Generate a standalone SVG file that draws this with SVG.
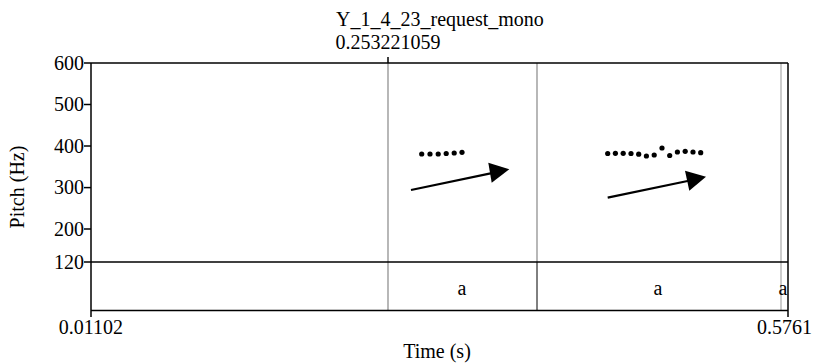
<svg xmlns="http://www.w3.org/2000/svg" width="813" height="363" viewBox="0 0 813 363">
<style>
text{font-family:"Liberation Serif","Times New Roman",serif;font-size:20px;fill:#000}
.ax{stroke:#000;stroke-width:1.5;fill:none}
.thin{stroke:#000;stroke-width:1;fill:none}
.gray{stroke:#888;stroke-width:1.2;fill:none}
.lgray{stroke:#bbb;stroke-width:1.5;fill:none}
.r{text-anchor:end}
.m{text-anchor:middle}
.dot{fill:#000}
</style>
<rect width="813" height="363" fill="#fff"/>
<g id="title">
<text class="m" x="440" y="26">Y_1_4_23_request_mono</text>
<text class="m" x="388" y="49">0.253221059</text>
</g>
<g id="frame">
<line class="gray" x1="388" y1="63" x2="388" y2="310"/>
<line class="gray" x1="537" y1="63" x2="537" y2="262"/>
<line class="thin" x1="537" y1="262" x2="537" y2="310"/>
<line class="lgray" x1="781" y1="63" x2="781" y2="310"/>
<line class="ax" x1="388" y1="57" x2="388" y2="63"/>
<line class="ax" x1="84" y1="63" x2="788" y2="63"/>
<line class="ax" x1="84" y1="262" x2="788" y2="262"/>
<line class="ax" x1="91" y1="310.5" x2="788" y2="310.5"/>
<line class="ax" x1="91" y1="63" x2="91" y2="317"/>
<line class="ax" x1="788" y1="63" x2="788" y2="317"/>
<line class="ax" x1="84" y1="104.5" x2="91" y2="104.5"/>
<line class="ax" x1="84" y1="146" x2="91" y2="146"/>
<line class="ax" x1="84" y1="187.6" x2="91" y2="187.6"/>
<line class="ax" x1="84" y1="229" x2="91" y2="229"/>
</g>
<g id="yaxis">
<text class="r" x="84" y="70">600</text>
<text class="r" x="84" y="111">500</text>
<text class="r" x="84" y="153">400</text>
<text class="r" x="84" y="194">300</text>
<text class="r" x="84" y="236">200</text>
<text class="r" x="84" y="269">120</text>
<text class="m" transform="translate(24,187) rotate(-90)">Pitch (Hz)</text>
</g>
<g id="xaxis">
<text class="m" x="91" y="334">0.01102</text>
<text class="r" x="812" y="334">0.5761</text>
<text class="m" x="437" y="358">Time (s)</text>
</g>
<g id="tier">
<text class="m" x="462" y="295">a</text>
<text class="m" x="658" y="295">a</text>
<text class="m" x="783" y="295">a</text>
</g>
<g id="pitch1">
<circle class="dot" cx="421.7" cy="154" r="2.6"/>
<circle class="dot" cx="430" cy="154" r="2.6"/>
<circle class="dot" cx="438.2" cy="154" r="2.6"/>
<circle class="dot" cx="446.2" cy="153.5" r="2.6"/>
<circle class="dot" cx="454.2" cy="153" r="2.6"/>
<circle class="dot" cx="462" cy="152.3" r="2.6"/>
</g>
<g id="pitch2">
<circle class="dot" cx="607.7" cy="153.5" r="2.6"/>
<circle class="dot" cx="615.4" cy="153.3" r="2.6"/>
<circle class="dot" cx="623.2" cy="153.3" r="2.6"/>
<circle class="dot" cx="631" cy="153.5" r="2.6"/>
<circle class="dot" cx="638.7" cy="154.2" r="2.6"/>
<circle class="dot" cx="646.4" cy="156" r="2.6"/>
<circle class="dot" cx="654.2" cy="155" r="2.6"/>
<circle class="dot" cx="662" cy="148" r="2.6"/>
<circle class="dot" cx="669.7" cy="155.5" r="2.6"/>
<circle class="dot" cx="677.4" cy="152" r="2.6"/>
<circle class="dot" cx="685.2" cy="151.3" r="2.6"/>
<circle class="dot" cx="693" cy="152" r="2.6"/>
<circle class="dot" cx="700.7" cy="152.7" r="2.6"/>
</g>
<g id="connectors">
<path d="M411,190 L493,172.9" stroke="#000" stroke-width="2.2" fill="none"/>
<path d="M509.3,169.3 L488.3,162.7 L491.7,182.7 z" fill="#000"/>
<path d="M607.7,197.7 L690,180.5" stroke="#000" stroke-width="2.2" fill="none"/>
<path d="M706,176.7 L685,170.7 L689.3,190.7 z" fill="#000"/>
</g>
</svg>
